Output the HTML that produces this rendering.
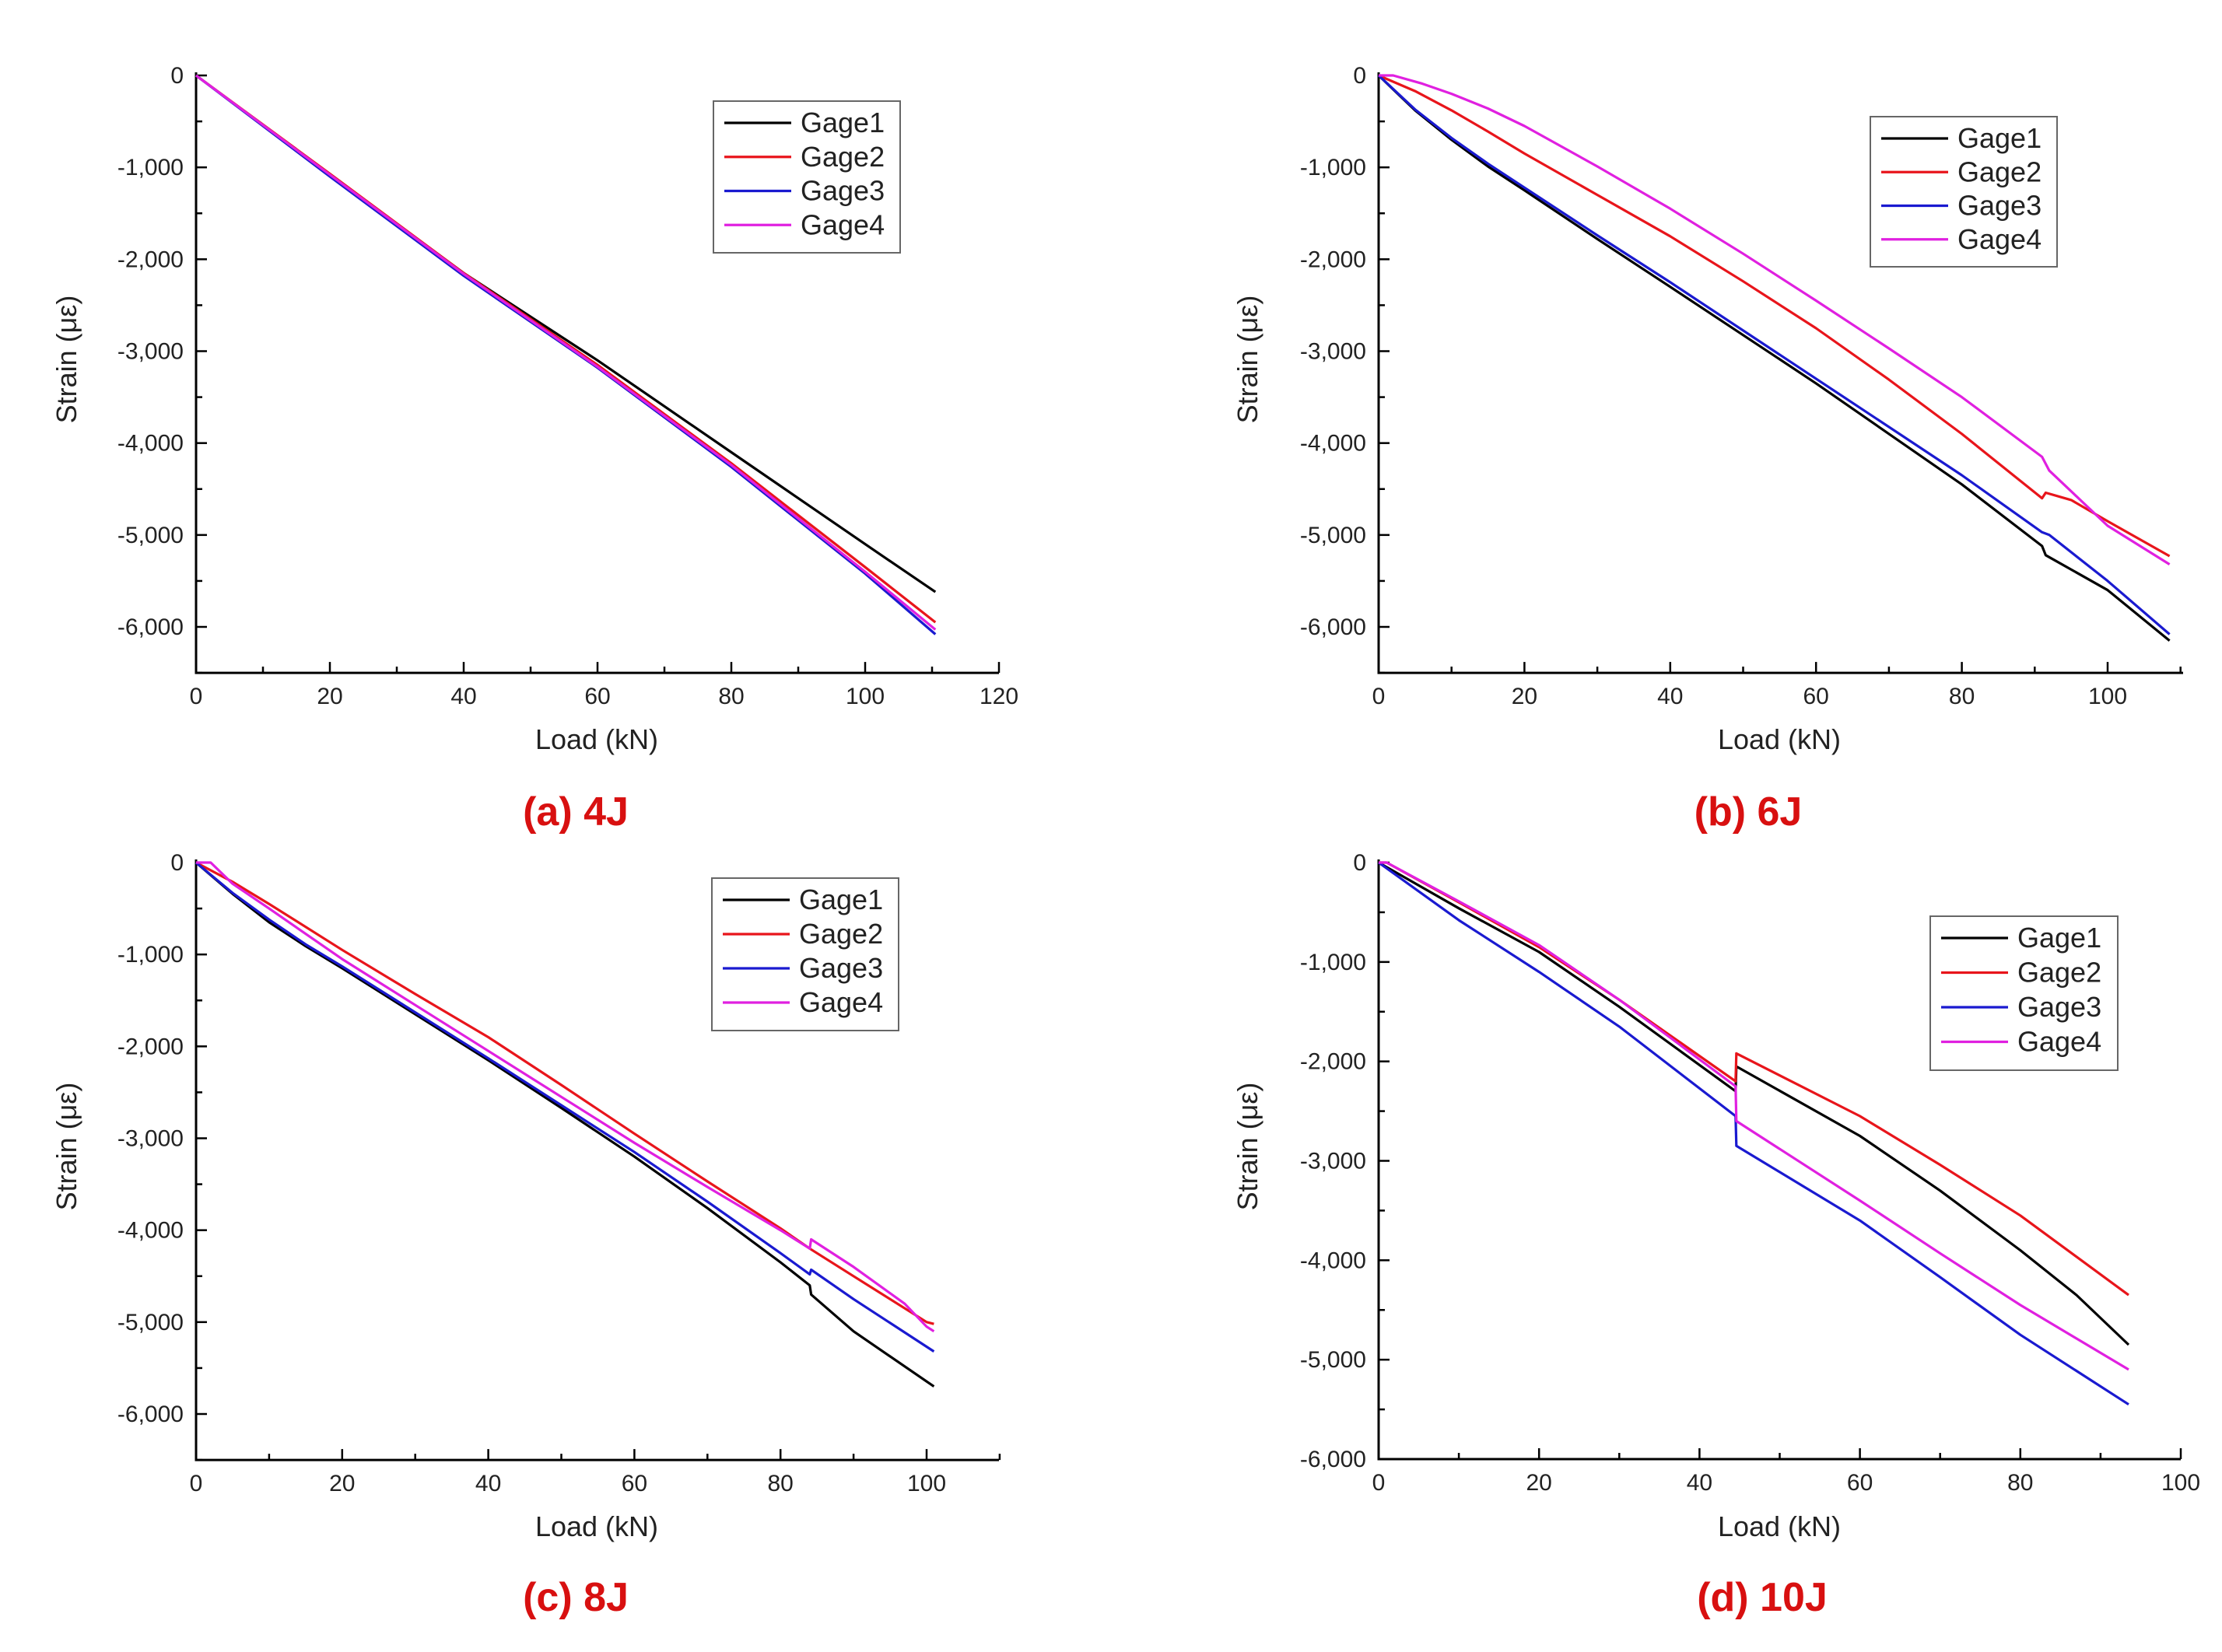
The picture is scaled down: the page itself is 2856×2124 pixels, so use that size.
<!DOCTYPE html>
<html><head><meta charset="utf-8">
<style>
html,body{margin:0;padding:0;background:#fff;}
svg{display:block;}
text{font-family:"Liberation Sans",sans-serif;}
</style></head>
<body>
<svg id="fig" width="2856" height="2124" viewBox="0 0 2856 2124" xmlns="http://www.w3.org/2000/svg"></svg>
<script>
// ---- data ----
const seriesNames = ["Gage1","Gage2","Gage3","Gage4"];
const seriesColors = ["#000000","#e8151b","#1a1ad0","#e020e0"];

const a_g1 = [[0,0],[20,-1080],[40,-2150],[60,-3100],[80,-4100],[100,-5100],[110.5,-5620]];
const a_g2 = [[0,0],[20,-1070],[40,-2150],[60,-3150],[80,-4220],[100,-5350],[110.5,-5950]];
const a_g3 = [[0,0],[20,-1100],[40,-2180],[60,-3180],[80,-4260],[100,-5420],[110.5,-6080]];
const a_g4 = [[0,0],[20,-1080],[40,-2160],[60,-3170],[80,-4240],[100,-5400],[110.5,-6030]];

const b_g1 = [[0,0],[5,-380],[10,-700],[15,-990],[20,-1250],[30,-1780],[40,-2300],[60,-3350],[80,-4450],[91,-5120],[91.5,-5220],[100,-5600],[108.5,-6150]];
const b_g2 = [[0,0],[5,-170],[10,-380],[15,-610],[20,-850],[30,-1300],[40,-1750],[50,-2240],[60,-2750],[70,-3310],[80,-3900],[91,-4600],[91.5,-4540],[95,-4620],[100,-4850],[108.5,-5230]];
const b_g3 = [[0,0],[5,-370],[10,-680],[15,-960],[20,-1220],[30,-1740],[40,-2250],[60,-3300],[80,-4350],[91,-4970],[92,-5000],[100,-5500],[108.5,-6080]];
const b_g4 = [[0,0],[2,0],[6,-90],[10,-200],[15,-360],[20,-550],[30,-990],[40,-1450],[50,-1940],[60,-2450],[70,-2970],[80,-3500],[91,-4150],[92,-4300],[100,-4900],[108.5,-5320]];

const c_g1 = [[0,0],[5,-340],[10,-650],[15,-910],[20,-1150],[30,-1650],[40,-2150],[50,-2670],[60,-3200],[70,-3760],[80,-4350],[84,-4600],[84.2,-4700],[90,-5100],[101,-5700]];
const c_g2 = [[0,0],[5,-210],[10,-450],[20,-950],[30,-1430],[40,-1900],[50,-2420],[60,-2950],[70,-3470],[80,-3980],[84,-4200],[90,-4500],[100,-5000],[101,-5020]];
const c_g3 = [[0,0],[5,-330],[10,-620],[15,-890],[20,-1130],[30,-1630],[40,-2130],[50,-2640],[60,-3150],[70,-3690],[80,-4250],[84,-4480],[84.2,-4430],[90,-4750],[101,-5320]];
const c_g4 = [[0,0],[2,0],[5,-230],[10,-500],[20,-1050],[30,-1550],[40,-2050],[50,-2550],[60,-3050],[70,-3530],[80,-4000],[84,-4200],[84.2,-4100],[90,-4400],[97,-4800],[100,-5050],[101,-5100]];

const d_g1 = [[0,0],[10,-460],[20,-900],[30,-1450],[44.5,-2300],[44.6,-2050],[60,-2750],[70,-3300],[80,-3900],[87,-4350],[93.5,-4850]];
const d_g2 = [[0,0],[1,0],[10,-400],[20,-850],[30,-1380],[44.5,-2200],[44.6,-1920],[60,-2550],[70,-3040],[80,-3550],[93.5,-4350]];
const d_g3 = [[0,0],[10,-580],[20,-1100],[30,-1650],[44.5,-2550],[44.6,-2850],[60,-3600],[70,-4170],[80,-4750],[93.5,-5450]];
const d_g4 = [[0,0],[1,0],[10,-390],[20,-830],[30,-1380],[44.5,-2250],[44.6,-2600],[60,-3400],[70,-3930],[80,-4450],[93.5,-5100]];

const xTicksA = [0,20,40,60,80,100,120];
const xTicksB = [0,20,40,60,80,100];
const yTicks = [0,-1000,-2000,-3000,-4000,-5000,-6000];
const yTickLabels = ["0","-1,000","-2,000","-3,000","-4,000","-5,000","-6,000"];

const panels = [
 {id:"a",cap:"(a) 4J",data:[a_g1,a_g2,a_g3,a_g4],xt:xTicksA,xmax:120,ymin:-6500,
  px0:252,px1:1284,pxUnit:(1284-252)/120,py0:97,pyUnit:(806-97)/6000,
  leg:[917,130,240,195],cx:740,cy:1045,xlab:[767,963],ylab:[86,462]},
 {id:"b",cap:"(b) 6J",data:[b_g1,b_g2,b_g3,b_g4],xt:xTicksB,xmax:110,ymin:-6500,
  px0:1772,px1:2806,pxUnit:(2709-1772)/100,py0:97,pyUnit:(806-97)/6000,
  leg:[2404,150,240,193],cx:2247,cy:1045,xlab:[2287,963],ylab:[1604,462]},
 {id:"c",cap:"(c) 8J",data:[c_g1,c_g2,c_g3,c_g4],xt:xTicksB,xmax:110,ymin:-6500,
  px0:252,px1:1284,pxUnit:(1191-252)/100,py0:1109,pyUnit:(1818-1109)/6000,
  leg:[915,1129,240,196],cx:740,cy:2055,xlab:[767,1975],ylab:[86,1474]},
 {id:"d",cap:"(d) 10J",data:[d_g1,d_g2,d_g3,d_g4],xt:xTicksB,xmax:100,ymin:-6000,
  px0:1772,px1:2803,pxUnit:(2803-1772)/100,py0:1109,pyUnit:(1876-1109)/6000,
  leg:[2481,1178,241,198],cx:2265,cy:2055,xlab:[2287,1975],ylab:[1604,1474]}
];

const NS="http://www.w3.org/2000/svg";
const svg=document.getElementById("fig");
function mk(tag,attrs,parent){const e=document.createElementNS(NS,tag);for(const k in attrs)e.setAttribute(k,attrs[k]);(parent||svg).appendChild(e);return e;}

panels.forEach(p=>{
  const g=mk("g",{});
  
  
  const X=v=>p.px0+v*p.pxUnit;
  const Y=v=>p.py0-v*p.pyUnit;
  const yb=Y(p.ymin);
  const ax=mk("path",{d:`M${p.px0},${Y(0)-4} L${p.px0},${yb} L${p.px1},${yb}`,fill:"none",stroke:"#000","stroke-width":3},g);
  
  
  for(let v=0;v<=p.xmax+0.01;v+=10){
    const maj=(v%20===0);
    mk("line",{x1:X(v),x2:X(v),y1:yb,y2:yb-(maj?14:8),stroke:"#000","stroke-width":2.5},g);
  }
  p.xt.forEach(v=>{
    const t=mk("text",{x:X(v),y:yb+40,"font-size":30,"text-anchor":"middle",fill:"#222"},g);
    t.textContent=v;
    
    
  });
  for(let v=0;v>=p.ymin;v-=500){
    const maj=(v%1000===0);
    mk("line",{x1:p.px0,x2:p.px0+(maj?14:8),y1:Y(v),y2:Y(v),stroke:"#000","stroke-width":2.5},g);
  }
  yTicks.forEach((v,i)=>{
    const t=mk("text",{x:p.px0-16,y:Y(v)+10,"font-size":30,"text-anchor":"end",fill:"#222"},g);
    t.textContent=yTickLabels[i];
    
    
  });
  const xt=mk("text",{x:p.xlab[0],y:p.xlab[1],"font-size":36,"text-anchor":"middle",fill:"#222"},g);
  xt.textContent="Load (kN)";
  
  
  const yt=mk("text",{x:0,y:0,"font-size":36,"text-anchor":"middle",fill:"#222",transform:`translate(${p.ylab[0]+12},${p.ylab[1]}) rotate(-90)`},g);
  yt.textContent="Strain (με)";
  
  
  p.data.forEach((s,i)=>{
    const d=s.map((pt,j)=>(j?"L":"M")+X(pt[0]).toFixed(1)+","+Y(pt[1]).toFixed(1)).join(" ");
    const l=mk("path",{d:d,fill:"none",stroke:seriesColors[i],"stroke-width":3.2,"stroke-linejoin":"round"},g);
    
    
  });
  const [lx,ly,lw,lh]=p.leg;
  const lg=mk("g",{},g);
  
  
  mk("rect",{x:lx,y:ly,width:lw,height:lh,fill:"#fff",stroke:"#666","stroke-width":2},lg);
  seriesNames.forEach((n,i)=>{
    const yy=ly+28+i*(lh-20)/4;
    mk("line",{x1:lx+14,x2:lx+100,y1:yy,y2:yy,stroke:seriesColors[i],"stroke-width":3.2},lg);
    const t=mk("text",{x:lx+112,y:yy+12,"font-size":36,fill:"#222"},lg);
    t.textContent=n;
    
    
  });
  const c=mk("text",{x:p.cx,y:p.cy+16,"font-size":52,"font-weight":"bold","text-anchor":"middle",fill:"#d81010","font-family":"'Liberation Sans Narrow','Liberation Sans',sans-serif"},g);
  c.textContent=p.cap;
  
  
});
</script>
</body></html>
